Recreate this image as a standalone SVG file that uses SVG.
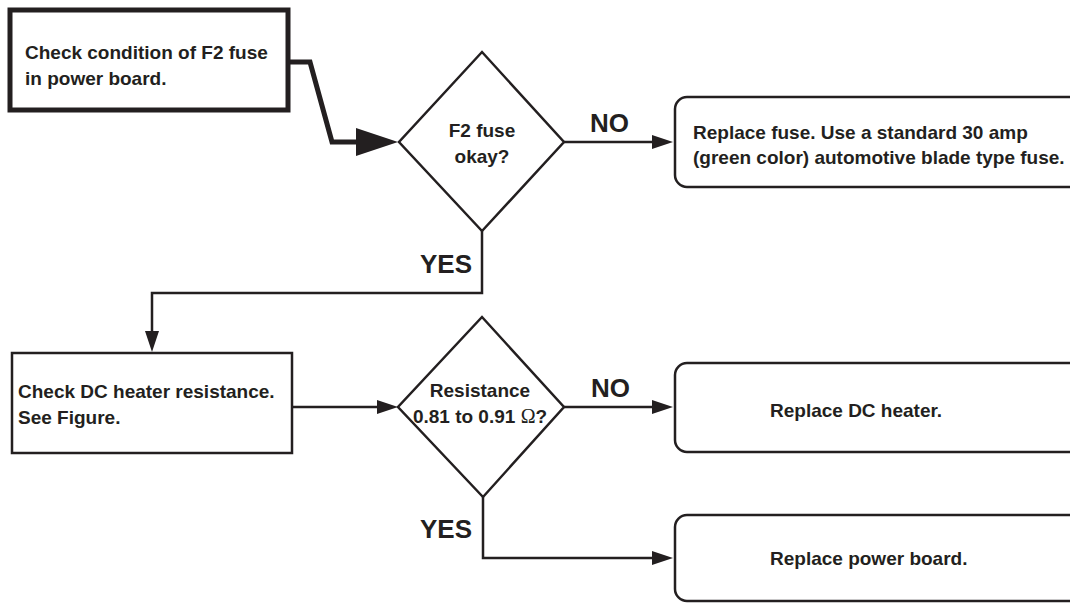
<svg xmlns="http://www.w3.org/2000/svg" width="1070" height="603" viewBox="0 0 1070 603">
<style>
.box{fill:#fff;stroke:#231f20;stroke-width:2.5}
.thick{fill:#fff;stroke:#231f20;stroke-width:5}
.t{font-family:"Liberation Sans",Arial,sans-serif;font-weight:bold;font-size:19px;fill:#231f20}
.lbl{font-family:"Liberation Sans",Arial,sans-serif;font-weight:bold;font-size:26px;fill:#231f20}
.c{fill:none;stroke:#231f20;stroke-width:2.5;stroke-linejoin:miter}
.ct{fill:none;stroke:#231f20;stroke-width:5;stroke-linejoin:miter}
</style>
<defs>
<marker id="a" markerUnits="userSpaceOnUse" viewBox="0 0 21 14" refX="11" refY="7" markerWidth="21" markerHeight="14" orient="auto">
<path d="M0,0 L21,7 L0,14 z" fill="#231f20"/>
</marker>
<marker id="ab" markerUnits="userSpaceOnUse" viewBox="0 0 42 28" refX="30" refY="14" markerWidth="42" markerHeight="28" orient="auto">
<path d="M0,0 L42,14 L0,28 z" fill="#231f20"/>
</marker>
</defs>
<rect width="1070" height="603" fill="#fff"/>
<g id="connectors">
<polyline class="ct" points="290,62 310,62 332,142 386,142" marker-end="url(#ab)"/>
<line class="c" x1="564" y1="142" x2="663" y2="142" marker-end="url(#a)"/>
<polyline class="c" points="482,230 482,293 152,293 152,342" marker-end="url(#a)"/>
<line class="c" x1="292" y1="407" x2="388" y2="407" marker-end="url(#a)"/>
<line class="c" x1="564" y1="407" x2="663" y2="407" marker-end="url(#a)"/>
<polyline class="c" points="483,497 483,558 663,558" marker-end="url(#a)"/>
<text class="lbl" x="590" y="132">NO</text>
<text class="lbl" x="420" y="273">YES</text>
<text class="lbl" x="591" y="397">NO</text>
<text class="lbl" x="420" y="538">YES</text>
</g>
<g id="n1">
<rect class="thick" x="10" y="10" width="278" height="100"/>
<text class="t" x="25" y="59">Check condition of F2 fuse</text>
<text class="t" x="25" y="85">in power board.</text>
</g>
<g id="d1">
<polygon class="box" points="482,52 564,142 482,231 399,142"/>
<text class="t" x="482" y="137" text-anchor="middle">F2 fuse</text>
<text class="t" x="482" y="163" text-anchor="middle">okay?</text>
</g>
<g id="n2">
<rect class="box" x="675" y="97" width="420" height="90" rx="12"/>
<text class="t" x="693" y="139">Replace fuse. Use a standard 30 amp</text>
<text class="t" x="693" y="164">(green color) automotive blade type fuse.</text>
</g>
<g id="n3">
<rect class="box" x="12" y="353" width="280" height="100"/>
<text class="t" x="18" y="398">Check DC heater resistance.</text>
<text class="t" x="18" y="424">See Figure.</text>
</g>
<g id="d2">
<polygon class="box" points="482,317 564,407 483,497 398,407"/>
<text class="t" x="480" y="397" text-anchor="middle">Resistance</text>
<text class="t" x="480" y="423" text-anchor="middle">0.81 to 0.91 <tspan font-family="'Liberation Serif',serif" font-weight="normal" font-size="20">Ω</tspan>?</text>
</g>
<g id="n4">
<rect class="box" x="675" y="363" width="420" height="89" rx="12"/>
<text class="t" x="770" y="417">Replace DC heater.</text>
</g>
<g id="n5">
<rect class="box" x="675" y="515" width="420" height="86" rx="12"/>
<text class="t" x="770" y="565">Replace power board.</text>
</g>
</svg>
